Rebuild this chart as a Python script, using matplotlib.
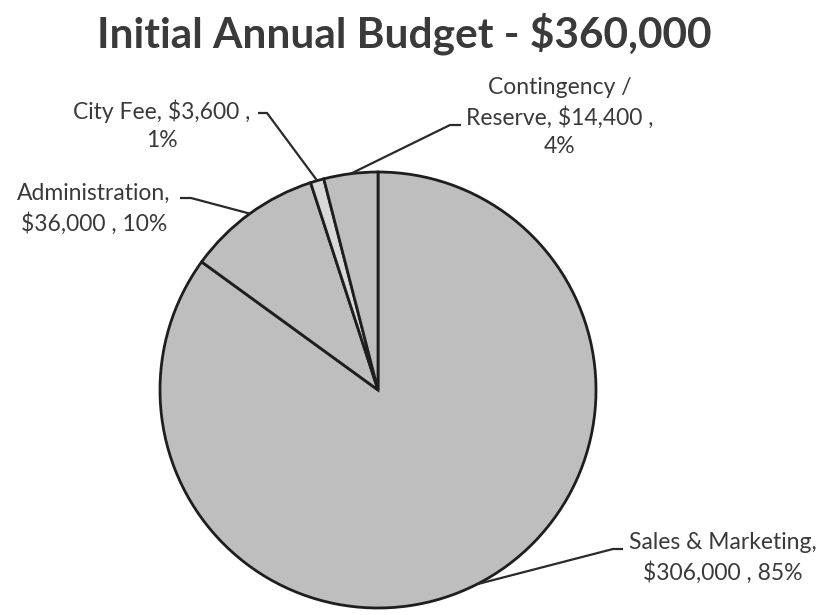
import numpy as np
import matplotlib
matplotlib.use("Agg")
import matplotlib.pyplot as plt

title = "Initial Annual Budget - $360,000"
categories = ["Sales & Marketing", "Administration", "City Fee", "Contingency /\nReserve"]
amounts = [306000, 36000, 3600, 14400]
percents = ["85%", "10%", "1%", "4%"]
colors = ["#bebebe", "#bebebe", "#d8d8d8", "#bebebe"]

W, H = 825, 615
fig = plt.figure(figsize=(W / 100, H / 100), dpi=100)
ax = fig.add_axes([0, 0, 1, 1])
cx, cy, R = 378, 390, 218  # pie centre / radius in pixels (layout)

wedges, _ = ax.pie(amounts, startangle=90, counterclock=False, colors=colors,
                   radius=1.0, center=(0, 0), frame=True,
                   wedgeprops=dict(edgecolor="#1e1e1e", linewidth=2.0))
ax.set_xlim(-cx / R, (W - cx) / R)
ax.set_ylim(-(H - cy) / R, cy / R)
ax.axis("off")

def px(x, y):
    return ((x - cx) / R, (cy - y) / R)

font = ["Lato", "DejaVu Sans"]
tcol = "#3a3a3a"

texts = [
    "Sales & Marketing,\n$306,000 , 85%",
    "Administration,\n$36,000 , 10%",
    "City Fee, $3,600 ,\n1%",
    "Contingency /\nReserve, $14,400 ,\n4%",
]
# text centre positions (pixels), elbow (near point, far point) in pixels
text_pos = [(723, 558), (94, 209), (162, 125), (560, 117)]
elbow_near = [(613, 549), (191, 198), (267, 113), (450, 125)]
elbow_far = [(623, 549), (180, 198), (258, 113), (461, 125)]

for i, w in enumerate(wedges):
    ang = np.deg2rad((w.theta1 + w.theta2) / 2)
    ex, ey = np.cos(ang), np.sin(ang)
    p1 = px(*elbow_near[i])
    p2 = px(*elbow_far[i])
    ax.plot([ex, p1[0], p2[0]], [ey, p1[1], p2[1]], color="#2a2a2a", lw=1.6,
            solid_capstyle="butt", zorder=5)
    tx, ty = px(*text_pos[i])
    ax.text(tx, ty, texts[i], ha="center", va="center", fontsize=16.5,
            family=font, color=tcol, linespacing=1.42)

fig.text(404 / W, 1 - 34 / H, title, ha="center", va="center", fontsize=30.5,
         fontweight="bold", family=font, color="#3a3a3a")

fig.savefig("out.png", dpi=100, facecolor="white")
